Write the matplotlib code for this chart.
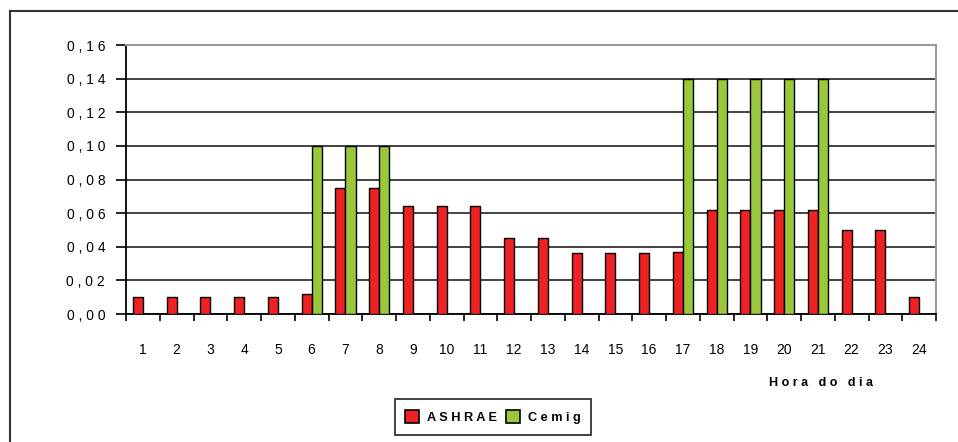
import numpy as np
import matplotlib.pyplot as plt
from matplotlib.lines import Line2D
from matplotlib.patches import Patch

plt.rcParams['font.family'] = ['Liberation Sans', 'DejaVu Sans']

# Dados: fração horária da carga
horas = list(range(1, 25))
ashrae = [0.010, 0.010, 0.010, 0.010, 0.010, 0.012, 0.075, 0.075, 0.064, 0.064,
          0.064, 0.045, 0.045, 0.036, 0.036, 0.036, 0.037, 0.062, 0.062, 0.062,
          0.062, 0.050, 0.050, 0.010]
cemig = [0, 0, 0, 0, 0, 0.10, 0.10, 0.10, 0, 0,
         0, 0, 0, 0, 0, 0, 0.14, 0.14, 0.14, 0.14,
         0.14, 0, 0, 0]
yticks = [0.00, 0.02, 0.04, 0.06, 0.08, 0.10, 0.12, 0.14, 0.16]
ytick_labels = ['0 , 0 0', '0 , 0 2', '0 , 0 4', '0 , 0 6', '0 , 0 8',
                '0 , 1 0', '0 , 1 2', '0 , 1 4', '0 , 1 6']

vermelho = '#ee2222'
verde = '#99c83a'

fig = plt.figure(figsize=(9.58, 4.42), dpi=100)
W, H = 958, 442
ax = fig.add_axes([126 / W, 1 - 314 / H, 810 / W, 269 / H])

x = np.arange(len(horas))
w = 0.3
ax.bar(x - w / 2, ashrae, w, color=vermelho, edgecolor='black', linewidth=1, zorder=3)
cem = np.array(cemig)
mask = cem > 0
ax.bar(x[mask] + w / 2, cem[mask], w, color=verde, edgecolor='black', linewidth=1, zorder=3)

ax.set_xlim(-0.5, len(horas) - 0.5)
ax.set_ylim(0, 0.16)
ax.set_yticks(yticks)
ax.set_yticklabels(ytick_labels)
ax.yaxis.grid(True, color='#222222', linewidth=1.2, zorder=0)
ax.set_axisbelow(True)

# ticks do eixo x entre categorias, rótulos no centro
ax.set_xticks(np.arange(-0.5, len(horas), 1.0))
ax.set_xticklabels([])
ax.set_xticks(x, minor=True)
ax.set_xticklabels([str(h) for h in horas], minor=True)
ax.tick_params(axis='x', which='major', direction='out', length=5, width=1.2, color='black')
ax.tick_params(axis='x', which='minor', length=0, pad=21, labelsize=10)
ax.tick_params(axis='y', direction='out', length=7, width=1.2, pad=8, labelsize=10)

ax.spines['left'].set_color('black')
ax.spines['left'].set_linewidth(1.3)
ax.spines['bottom'].set_color('black')
ax.spines['bottom'].set_linewidth(1.3)
ax.spines['top'].set_color('#999999')
ax.spines['top'].set_linewidth(1.5)
ax.spines['right'].set_color('#999999')
ax.spines['right'].set_linewidth(1.5)

fig.text(873 / W, 1 - 383 / H, 'H o r a   d o   d i a', ha='right', va='center',
         fontsize=9, fontweight='bold')

handles = [Patch(facecolor=vermelho, edgecolor='black', linewidth=1.2),
           Patch(facecolor=verde, edgecolor='black', linewidth=1.2)]
leg = fig.legend(handles, ['A S H R A E', 'C e m i g'], loc='center',
                 bbox_to_anchor=(493 / W, 1 - 417 / H), ncol=2, frameon=True,
                 fancybox=False, edgecolor='black',
                 handlelength=1.1, handleheight=1.1, handletextpad=0.6,
                 columnspacing=0.7, borderpad=0.85, borderaxespad=0,
                 prop={'weight': 'bold', 'size': 9.2})
leg.get_frame().set_linewidth(1.3)

# moldura externa do gráfico
fig.add_artist(Line2D([10 / W, 10 / W], [0, 1 - 11 / H], color='#333333', linewidth=1.5))
fig.add_artist(Line2D([10 / W, 1], [1 - 11 / H, 1 - 11 / H], color='#333333', linewidth=1.5))

fig.savefig('out.png', dpi=100)
